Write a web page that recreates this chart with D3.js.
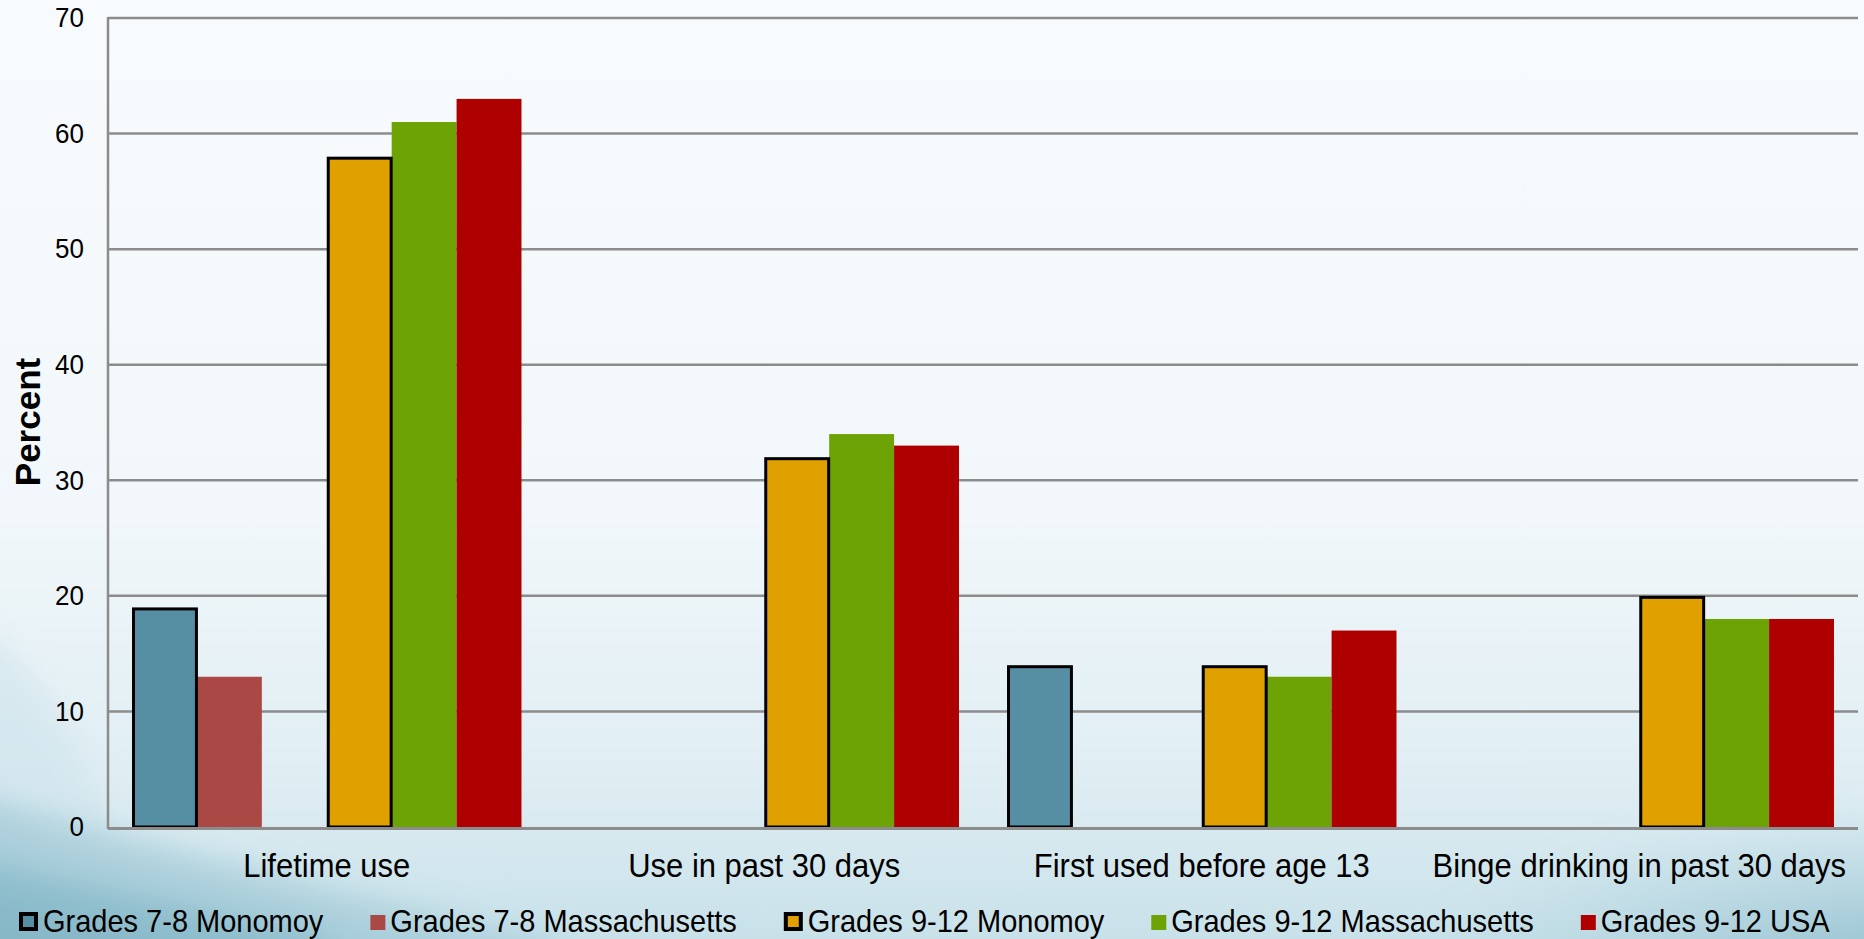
<!DOCTYPE html>
<html>
<head>
<meta charset="utf-8">
<script src="https://cdn.jsdelivr.net/npm/d3@7"></script>
<style>
  html, body { margin: 0; padding: 0; }
  body { width: 1864px; height: 939px; overflow: hidden; }
  svg { display: block; font-family: "Liberation Sans", Arial, sans-serif; }
</style>
</head>
<body>
<svg id="chart" width="1864" height="939"></svg>
<script>
// Survey measures along the x axis
const categories = ["Lifetime use", "Use in past 30 days", "First used before age 13", "Binge drinking in past 30 days"];

// Series names shown in the legend
const seriesNames = ["Grades 7-8 Monomoy", "Grades 7-8 Massachusetts", "Grades 9-12 Monomoy", "Grades 9-12 Massachusetts", "Grades 9-12 USA"];

// Percent values per series, one entry per category (null = not reported)
const grades78Monomoy       = [19, null, 14, null];
const grades78Massachusetts = [13, null, null, null];
const grades912Monomoy      = [58, 32, 14, 20];
const grades912Massachusetts= [61, 34, 13, 18];
const grades912USA          = [63, 33, 17, 18];

// Slot each series occupies inside a category group (slot 2 is left blank)
const seriesSlots = [0, 1, 3, 4, 5];
const slotCount = 6;

const seriesColors = ["#568fa4", "#aa4846", "#e0a000", "#6ea305", "#ae0000"];
const seriesOutlined = [true, false, true, false, false];

const yTicks = [0, 10, 20, 30, 40, 50, 60, 70];

const seriesValues = [grades78Monomoy, grades78Massachusetts, grades912Monomoy, grades912Massachusetts, grades912USA];

const svg = d3.select("#chart");
const W = 1864, H = 939;
const plot = { left: 108, right: 1858, top: 18, bottom: 827 };
const textStretch = 1.08; // labels are drawn slightly taller than wide

// ---- background ----
const defs = svg.append("defs");
const bg = defs.append("linearGradient").attr("id", "bgGrad").attr("x1", 0).attr("y1", 0).attr("x2", 0).attr("y2", 1);
bg.append("stop").attr("offset", "0%").attr("stop-color", "#f8fbfd");
bg.append("stop").attr("offset", "55%").attr("stop-color", "#f1f7fa");
bg.append("stop").attr("offset", "82%").attr("stop-color", "#e0eef3");
bg.append("stop").attr("offset", "100%").attr("stop-color", "#c8e1e9");

const blur = defs.append("filter").attr("id", "soft").attr("x", "-20%").attr("y", "-20%").attr("width", "140%").attr("height", "140%");
blur.append("feGaussianBlur").attr("stdDeviation", 14);

const swL = defs.append("linearGradient").attr("id", "swoopL").attr("x1", 0).attr("y1", 1).attr("x2", 1).attr("y2", 0);
swL.append("stop").attr("offset", "0%").attr("stop-color", "#6ea8bb").attr("stop-opacity", 0.85);
swL.append("stop").attr("offset", "55%").attr("stop-color", "#94c2d1").attr("stop-opacity", 0.45);
swL.append("stop").attr("offset", "100%").attr("stop-color", "#c7e0e9").attr("stop-opacity", 0);

const swR = defs.append("radialGradient").attr("id", "swoopR").attr("cx", 1).attr("cy", 1).attr("r", 1);
swR.append("stop").attr("offset", "0%").attr("stop-color", "#78afc1").attr("stop-opacity", 0.8);
swR.append("stop").attr("offset", "100%").attr("stop-color", "#a9d0dc").attr("stop-opacity", 0);

svg.append("rect").attr("width", W).attr("height", H).attr("fill", "url(#bgGrad)");
// left-side faint tint
svg.append("path")
  .attr("d", "M-60,620 L0,640 C60,700 90,760 110,830 L-60,830 Z")
  .attr("fill", "#cfe4ec").attr("opacity", 0.6).attr("filter", "url(#soft)");
// bottom-left sweep
svg.append("path")
  .attr("d", "M-60,785 L0,800 C140,840 330,890 560,939 L560,980 L-60,980 Z")
  .attr("fill", "url(#swoopL)").attr("filter", "url(#soft)");
svg.append("path")
  .attr("d", "M-60,860 L0,870 C120,895 230,915 330,939 L330,980 L-60,980 Z")
  .attr("fill", "#7fb3c4").attr("opacity", 0.5).attr("filter", "url(#soft)");
// bottom-right sweep
svg.append("rect")
  .attr("x", 1400).attr("y", 800).attr("width", 520).attr("height", 180)
  .attr("fill", "url(#swoopR)").attr("filter", "url(#soft)");

// ---- scales ----
const y = d3.scaleLinear().domain([0, 70]).range([plot.bottom, plot.top]);
const x0 = d3.scaleBand().domain(categories).range([plot.left, plot.right]).paddingInner(0).paddingOuter(0);
const x1 = d3.scaleBand().domain(d3.range(slotCount)).range([0, x0.bandwidth()]).paddingInner(0).paddingOuter(0.37);

// helper: text anchored at (x, y) and stretched vertically around that point
function stretchedText(sel, x, yPos) {
  return sel.attr("transform", `translate(${x},${yPos}) scale(1,${textStretch})`)
    .attr("x", 0).attr("y", 0);
}

// ---- gridlines ----
svg.append("g").selectAll("line").data(yTicks.filter(t => t > 0)).join("line")
  .attr("x1", plot.left).attr("x2", plot.right)
  .attr("y1", d => y(d)).attr("y2", d => y(d))
  .attr("stroke", "#8c8c8c").attr("stroke-width", 2.5);

// ---- y tick labels ----
svg.append("g").selectAll("text").data(yTicks).join("text")
  .each(function (d) { stretchedText(d3.select(this), 84, y(d)); })
  .attr("text-anchor", "end").attr("dominant-baseline", "central")
  .attr("font-size", 26).attr("fill", "#000")
  .text(d => d);

// ---- bars ----
const barData = [];
seriesValues.forEach((vals, si) => {
  vals.forEach((v, ci) => {
    if (v !== null) barData.push({ si, cat: categories[ci], v });
  });
});

const bars = svg.append("g");
// unframed bars first, outlined ones on top so their borders stay visible
bars.selectAll("rect.fill").data(barData.filter(d => !seriesOutlined[d.si])).join("rect")
  .attr("class", "fill")
  .attr("x", d => x0(d.cat) + x1(seriesSlots[d.si]))
  .attr("y", d => y(d.v))
  .attr("width", x1.bandwidth())
  .attr("height", d => y(0) - y(d.v))
  .attr("fill", d => seriesColors[d.si]);
bars.selectAll("rect.outl").data(barData.filter(d => seriesOutlined[d.si])).join("rect")
  .attr("class", "outl")
  .attr("x", d => x0(d.cat) + x1(seriesSlots[d.si]) + 1.5)
  .attr("y", d => y(d.v) + 1.5)
  .attr("width", x1.bandwidth() - 2)
  .attr("height", d => y(0) - y(d.v) - 1.5)
  .attr("fill", d => seriesColors[d.si])
  .attr("stroke", "#000").attr("stroke-width", 3);

// ---- axes lines ----
svg.append("line")
  .attr("x1", plot.left).attr("x2", plot.left)
  .attr("y1", plot.top - 1).attr("y2", plot.bottom + 2)
  .attr("stroke", "#8c8c8c").attr("stroke-width", 2.5);
svg.append("line")
  .attr("x1", plot.left).attr("x2", plot.right)
  .attr("y1", plot.bottom + 1.5).attr("y2", plot.bottom + 1.5)
  .attr("stroke", "#8c8c8c").attr("stroke-width", 3);

// ---- category labels ----
svg.append("g").selectAll("text").data(categories).join("text")
  .each(function (d) { stretchedText(d3.select(this), x0(d) + x0.bandwidth() / 2, 877); })
  .attr("text-anchor", "middle")
  .attr("font-size", 31).attr("fill", "#000")
  .text(d => d);

// ---- y axis title ----
svg.append("text")
  .attr("transform", "translate(27,422) rotate(-90)")
  .attr("text-anchor", "middle").attr("dominant-baseline", "central")
  .attr("font-size", 35).attr("font-weight", "bold").attr("fill", "#000")
  .text("Percent");

// ---- legend ----
const legend = svg.append("g");
let lx = 19;
const legendGap = 47;
seriesNames.forEach((name, i) => {
  const g = legend.append("g");
  let textX;
  if (seriesOutlined[i]) {
    g.append("rect").attr("x", lx + 2).attr("y", 914).attr("width", 15).attr("height", 15)
      .attr("fill", seriesColors[i]).attr("stroke", "#000").attr("stroke-width", 4);
    textX = lx + 24;
  } else {
    g.append("rect").attr("x", lx).attr("y", 915).attr("width", 15).attr("height", 15)
      .attr("fill", seriesColors[i]);
    textX = lx + 20;
  }
  const t = g.append("text")
    .attr("font-size", 29).attr("fill", "#000").text(name);
  stretchedText(t, textX, 932);
  lx = textX + t.node().getComputedTextLength() + legendGap;
});
</script>
</body>
</html>
